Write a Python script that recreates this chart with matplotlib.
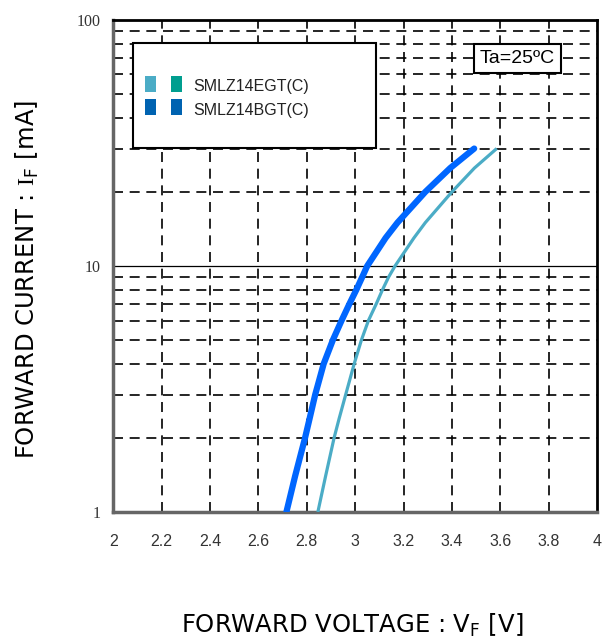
import numpy as np
import matplotlib.pyplot as plt
from matplotlib.patches import Rectangle

plt.rcParams['mathtext.fontset'] = 'custom'
plt.rcParams['mathtext.rm'] = 'Liberation Serif'
plt.rcParams['mathtext.sf'] = 'DejaVu Sans'

# Данные
current_ma = [1, 1.4, 2, 2.4, 3, 4, 5, 6, 7, 8, 9, 10, 13, 15, 20, 25, 30]
vf_egt = [2.846, 2.878, 2.913, 2.934, 2.961, 2.996, 3.026, 3.055, 3.087, 3.113, 3.138,
          3.165, 3.243, 3.29, 3.40, 3.493, 3.585]
vf_bgt = [2.716, 2.752, 2.793, 2.812, 2.835, 2.870, 2.908, 2.944, 2.976, 3.005, 3.029,
          3.05, 3.126, 3.175, 3.29, 3.393, 3.492]

x_ticks = [2, 2.2, 2.4, 2.6, 2.8, 3, 3.2, 3.4, 3.6, 3.8, 4]
x_ticklabels = ["2", "2.2", "2.4", "2.6", "2.8", "3", "3.2", "3.4", "3.6", "3.8", "4"]
y_ticks = [1, 10, 100]
y_ticklabels = ["1", "10", "100"]

legend_names = ["SMLZ14EGT(C)", "SMLZ14BGT(C)"]
legend_colors = [("#4BACC6", "#009E8F"), ("#0063B1", "#0063B1")]

fig = plt.figure(figsize=(6.05, 6.42), dpi=100)
ax = fig.add_axes([0.187, 0.2025, 0.8, 0.7665])
ax.set_yscale('log')
ax.set_xlim(2, 4)
ax.set_ylim(1, 100)

# сетка
for x in x_ticks[1:-1]:
    ax.axvline(x, color='black', lw=1.2, ls=(0, (6, 4)), zorder=1)
for dec in [1, 10]:
    for m in range(2, 10):
        ax.axhline(dec * m, color='black', lw=1.2, ls=(0, (6, 4)), zorder=1)
ax.axhline(10, color='black', lw=0.9, zorder=1)

ax.plot(vf_egt, current_ma, color='#4BACC6', lw=2.3, zorder=3,
        solid_capstyle='butt', solid_joinstyle='round')
ax.plot(vf_bgt, current_ma, color='#0066FF', lw=4.5, zorder=4,
        solid_capstyle='round', solid_joinstyle='round')

ax.set_xticks(x_ticks)
ax.set_xticklabels(x_ticklabels, fontsize=11.5, color='#333333', family='Liberation Sans')
ax.set_yticks(y_ticks)
ax.set_yticklabels(y_ticklabels, fontsize=11.5, color='#333333', family='Liberation Serif')
ax.yaxis.set_minor_locator(plt.NullLocator())
ax.tick_params(axis='x', length=0, pad=16)
ax.tick_params(axis='y', length=0, pad=9)

for side in ['top', 'right']:
    ax.spines[side].set_linewidth(2)
    ax.spines[side].set_color('black')
for side in ['left', 'bottom']:
    ax.spines[side].set_linewidth(2.5)
    ax.spines[side].set_color('#666666')

fig.text(352 / 605, 9 / 642, r"FORWARD VOLTAGE : V$_{\mathsf{F}}$ [V]",
         fontsize=17.5, ha='center', va='baseline')
fig.text(27 / 605, 1 - 280 / 642, r"FORWARD CURRENT : $\mathrm{I}_{\mathsf{F}}$ [mA]",
         fontsize=17.5, ha='center', va='center', rotation=90)

# легенда
tr = ax.transAxes
ax.add_patch(Rectangle((0.0413, 0.740), 0.502, 0.213, transform=tr,
                       facecolor='white', edgecolor='black', lw=1.5, zorder=5))
for i, (name, (c1, c2)) in enumerate(zip(legend_names, legend_colors)):
    yc = 0.870 - i * 0.0474
    ax.add_patch(Rectangle((0.066, yc - 0.016), 0.0227, 0.0325, transform=tr,
                           facecolor=c1, edgecolor='none', zorder=6))
    ax.add_patch(Rectangle((0.120, yc - 0.016), 0.0227, 0.0325, transform=tr,
                           facecolor=c2, edgecolor='none', zorder=6))
    ax.text(0.165, yc - 0.006, name, transform=tr, fontsize=11.5, va='center',
            family='Liberation Sans', color='#222222', zorder=6)

ax.text(0.835, 0.921, "Ta=25ºC", transform=tr, fontsize=14, ha='center', va='center',
        family='Liberation Sans', zorder=6,
        bbox=dict(boxstyle='square,pad=0.3', facecolor='white', edgecolor='black', lw=1.5))

fig.savefig("out.png", dpi=100)
